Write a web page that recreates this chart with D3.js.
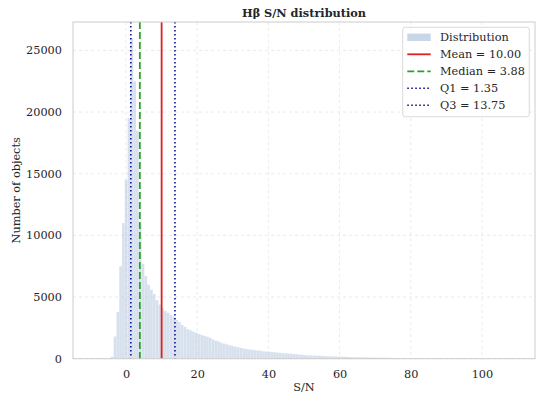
<!DOCTYPE html>
<html>
<head>
<meta charset="utf-8">
<script src="https://cdn.jsdelivr.net/npm/d3@7"></script>
<style>
  body { margin: 0; background: #fff; }
  text { font-family: "DejaVu Serif", serif; fill: #262626; }
</style>
</head>
<body>
<div id="chart"></div>
<script>
// histogram: 150 bins from -9 to 109
var binStart = -9;
var binEnd = 109;
var counts = [
  0, 0, 0, 0, 0, 10, 150, 1800, 3800, 7500,
  11000, 14500, 19500, 26000, 22500, 18500, 11000, 7700, 6700, 6000,
  5600, 5250, 4750, 4400, 4100, 3880, 3720, 3560, 3400, 3150,
  2980, 2740, 2580, 2400, 2300, 2200, 2100, 2000, 1920, 1850,
  1790, 1700, 1560, 1460, 1400, 1300, 1220, 1170, 1100, 1040,
  980, 930, 880, 830, 790, 760, 720, 700, 670, 640,
  610, 590, 570, 550, 530, 510, 480, 460, 440, 420,
  400, 380, 360, 340, 320, 300, 280, 270, 260, 250,
  240, 230, 220, 210, 200, 190, 180, 170, 160, 150,
  145, 140, 130, 125, 120, 115, 110, 105, 100, 95,
  92, 90, 88, 85, 82, 78, 60, 40, 30, 25,
  20, 18, 16, 14, 12, 11, 10, 9, 8, 8,
  7, 7, 6, 6, 5, 5, 5, 4, 4, 4,
  3, 3, 3, 3, 3, 2, 2, 2, 2, 2,
  2, 2, 1, 1, 1, 1, 1, 1, 1, 1
];
var statNames = ["Mean", "Median", "Q1", "Q3"];
var statValues = [10.00, 3.88, 1.35, 13.75];
var xTicks = [0, 20, 40, 60, 80, 100];
var yTicks = [0, 5000, 10000, 15000, 20000, 25000];

var width = 538, height = 393;
var margin = {top: 22, right: 3, bottom: 34.3, left: 73};
var binW = (binEnd - binStart) / counts.length;
var bins = counts.map(function(c, i) { return {x0: binStart + i * binW, x1: binStart + (i + 1) * binW, n: c}; });

var pad = 0.05 * (binEnd - binStart);
var x = d3.scaleLinear()
    .domain([binStart - pad, binEnd + pad])
    .range([margin.left, width - margin.right]);
var y = d3.scaleLinear()
    .domain([0, d3.max(counts) * 1.05])
    .range([height - margin.bottom, margin.top]);

var svg = d3.select("#chart").append("svg")
    .attr("width", width)
    .attr("height", height);

// grid
svg.append("g").selectAll("line").data(xTicks).enter().append("line")
    .attr("x1", function(d) { return x(d); }).attr("x2", function(d) { return x(d); })
    .attr("y1", y.range()[1]).attr("y2", y.range()[0])
    .style("stroke", "#e6e6e6").style("stroke-width", 0.8).style("stroke-dasharray", "3,3");
svg.append("g").selectAll("line").data(yTicks).enter().append("line")
    .attr("x1", x.range()[0]).attr("x2", x.range()[1])
    .attr("y1", function(d) { return y(d); }).attr("y2", function(d) { return y(d); })
    .style("stroke", "#e6e6e6").style("stroke-width", 0.8).style("stroke-dasharray", "3,3");

// bars
svg.append("g").selectAll("rect").data(bins).enter().append("rect")
    .attr("x", function(d) { return x(d.x0); })
    .attr("width", function(d) { return x(d.x1) - x(d.x0); })
    .attr("y", function(d) { return y(d.n); })
    .attr("height", function(d) { return y(0) - y(d.n); })
    .style("fill", "#b0c4de").style("fill-opacity", 0.5)
    .style("stroke", "#ffffff").style("stroke-width", 0.2).style("stroke-opacity", 0.6);

// stat lines
var statStyle = [
  {color: "#e02020", dash: null, w: 1.8},
  {color: "#2ca02c", dash: "7,3", w: 1.8},
  {color: "#000080", dash: "1.5,2.5", w: 1.5},
  {color: "#000080", dash: "1.5,2.5", w: 1.5}
];
statValues.forEach(function(v, i) {
  svg.append("line")
    .attr("x1", x(v)).attr("x2", x(v))
    .attr("y1", y.range()[1]).attr("y2", y.range()[0])
    .style("stroke", statStyle[i].color)
    .style("stroke-width", statStyle[i].w)
    .style("stroke-dasharray", statStyle[i].dash);
});

// frame
svg.append("rect")
    .attr("x", x.range()[0]).attr("y", y.range()[1])
    .attr("width", x.range()[1] - x.range()[0])
    .attr("height", y.range()[0] - y.range()[1])
    .style("fill", "none").style("stroke", "#cccccc").style("stroke-width", 1);

// axes
var xAxis = svg.append("g")
    .attr("transform", "translate(0," + y.range()[0] + ")")
    .call(d3.axisBottom(x).tickValues(xTicks).tickSize(0).tickPadding(11));
var yAxis = svg.append("g")
    .attr("transform", "translate(" + x.range()[0] + ",0)")
    .call(d3.axisLeft(y).tickValues(yTicks).tickSize(0).tickPadding(11).tickFormat(d3.format("d")));
[xAxis, yAxis].forEach(function(a) {
  a.select(".domain").remove();
  a.selectAll("text").style("font-family", "DejaVu Serif").style("font-size", "11.3px").style("fill", "#262626");
});

svg.append("text")
    .attr("x", (x.range()[0] + x.range()[1]) / 2).attr("y", 16.5)
    .attr("text-anchor", "middle")
    .style("font-size", "11.3px").style("font-weight", "bold")
    .text("Hβ S/N distribution");
svg.append("text")
    .attr("x", (x.range()[0] + x.range()[1]) / 2).attr("y", 391)
    .attr("text-anchor", "middle")
    .style("font-size", "11.3px")
    .text("S/N");
svg.append("text")
    .attr("transform", "translate(20," + ((y.range()[0] + y.range()[1]) / 2) + ") rotate(-90)")
    .attr("text-anchor", "middle")
    .style("font-size", "11.3px")
    .text("Number of objects");

// legend
var leg = svg.append("g").attr("transform", "translate(402.7,27.3)");
leg.append("rect")
    .attr("width", 126.6).attr("height", 89.4).attr("rx", 2.5)
    .style("fill", "#ffffff").style("fill-opacity", 0.8)
    .style("stroke", "#d0d0d0").style("stroke-width", 0.8);
var labels = ["Distribution"].concat(statNames.map(function(n, i) {
  return n + " = " + statValues[i].toFixed(2);
}));
labels.forEach(function(t, i) {
  var cy = 10 + i * 17;
  if (i === 0) {
    leg.append("rect").attr("x", 4.6).attr("y", cy - 3.7).attr("width", 23.4).attr("height", 7.4)
      .style("fill", "#b0c4de").style("fill-opacity", 0.7);
  } else {
    var s = statStyle[i - 1];
    leg.append("line").attr("x1", 4.6).attr("x2", 28).attr("y1", cy).attr("y2", cy)
      .style("stroke", s.color).style("stroke-width", s.w).style("stroke-dasharray", s.dash);
  }
  leg.append("text").attr("x", 37.3).attr("y", cy + 4)
    .style("font-size", "11.3px").text(t);
});
</script>
</body>
</html>
